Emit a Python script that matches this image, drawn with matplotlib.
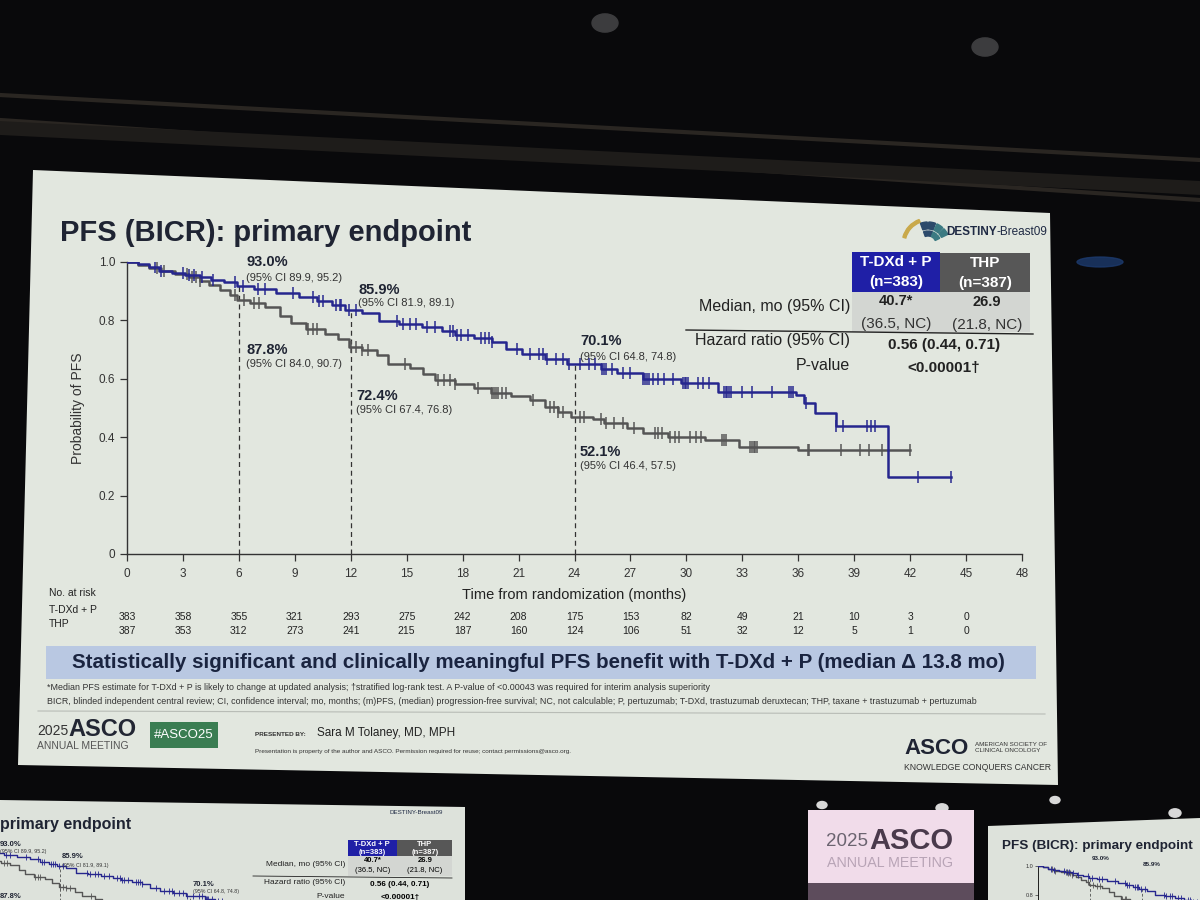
import numpy as np
import matplotlib
matplotlib.use("Agg")
import matplotlib.pyplot as plt
from matplotlib.patches import Polygon, Rectangle, Wedge, Ellipse
from matplotlib.transforms import blended_transform_factory

plt.rcParams["font.family"] = ["Liberation Sans", "DejaVu Sans"]

# --- KM curves (step points) ---
tdxd_t = [0, 0.6, 1.2, 1.7, 2.4, 3.1, 3.9, 4.5, 5.2, 5.9, 6.8, 8.0, 9.2, 10.2, 11.0, 11.7,
          12.6, 13.5, 14.6, 15.8, 16.9, 17.6, 18.6, 19.6, 20.3, 21.2, 22.4, 23.6, 25.4, 26.3,
          27.7, 29.7, 31.7, 35.9, 36.3, 36.9, 38.0, 40.8, 44.2]
tdxd_s = [1.0, 0.992, 0.982, 0.970, 0.963, 0.956, 0.948, 0.940, 0.930, 0.918, 0.908, 0.895,
          0.880, 0.866, 0.852, 0.836, 0.826, 0.798, 0.787, 0.777, 0.763, 0.751, 0.741, 0.727,
          0.702, 0.685, 0.668, 0.652, 0.632, 0.620, 0.598, 0.584, 0.556, 0.544, 0.516, 0.482,
          0.437, 0.262, 0.262]

thp_t = [0, 0.6, 1.2, 1.8, 2.6, 3.3, 3.9, 4.4, 5.0, 5.5, 5.9, 6.6, 7.4, 8.2, 8.8, 9.6, 10.6,
         11.3, 11.9, 12.6, 13.4, 14.0, 15.2, 15.9, 16.5, 17.6, 18.6, 19.5, 20.6, 21.6, 22.4,
         23.1, 23.8, 25.0, 25.6, 26.8, 27.7, 29.0, 31.0, 32.8, 36.0, 42.0]
thp_s = [1.0, 0.990, 0.978, 0.968, 0.958, 0.948, 0.935, 0.922, 0.905, 0.888, 0.870, 0.858,
         0.845, 0.815, 0.790, 0.770, 0.755, 0.735, 0.710, 0.700, 0.680, 0.652, 0.636, 0.615,
         0.595, 0.583, 0.570, 0.552, 0.540, 0.526, 0.505, 0.487, 0.470, 0.462, 0.448, 0.430,
         0.414, 0.400, 0.390, 0.368, 0.356, 0.356]

# censoring ticks (months)
tdxd_cens = [1.5, 1.8, 3.0, 3.3, 3.6, 4.0, 4.6, 5.8, 6.2, 7.0, 7.4, 8.9, 10.0, 10.3, 10.5,
             11.2, 11.4, 11.5, 11.9, 12.3, 14.5, 14.8, 15.2, 15.5, 16.1, 16.5, 17.3, 17.5,
             17.7, 17.9, 18.3, 19.0, 19.2, 19.4, 19.6, 20.9, 21.6, 22.1, 22.3, 22.5, 23.0,
             23.4, 23.7, 24.3, 24.8, 25.1, 25.5, 25.6, 25.7, 26.0, 26.6, 27.0, 27.7, 27.8,
             27.9, 28.0, 28.2, 28.5, 28.8, 29.3, 29.8, 29.9, 30.0, 30.1, 30.6, 30.9, 31.2,
             32.0, 32.1, 32.2, 32.3, 32.4, 33.0, 33.5, 34.6, 35.5, 35.6, 35.7, 36.4, 38.0,
             38.4, 39.7, 39.9, 40.1, 42.4, 44.2]
thp_cens = [1.6, 2.0, 3.2, 3.5, 3.7, 3.9, 5.8, 6.3, 6.8, 7.1, 9.7, 10.0, 10.2, 12.0, 12.3,
            12.6, 12.9, 14.9, 16.7, 17.0, 17.3, 17.6, 18.8, 19.6, 19.7, 19.8, 19.9, 20.1, 20.3,
            21.8, 22.7, 22.9, 23.1, 23.4, 24.3, 24.5, 25.4, 25.7, 26.1, 26.6, 27.2, 28.3,
            28.5, 28.7, 29.1, 29.4, 29.6, 30.2, 30.5, 30.8, 31.9, 32.0, 32.1, 33.4, 33.5,
            33.6, 33.7, 33.8, 36.5, 36.6, 38.3, 39.3, 39.8, 40.5, 42.0]

# landmark annotations
landmarks = [6, 12, 24]
tdxd_pct = ["93.0%", "85.9%", "70.1%"]
tdxd_ci = ["(95% CI 89.9, 95.2)", "(95% CI 81.9, 89.1)", "(95% CI 64.8, 74.8)"]
thp_pct = ["87.8%", "72.4%", "52.1%"]
thp_ci = ["(95% CI 84.0, 90.7)", "(95% CI 67.4, 76.8)", "(95% CI 46.4, 57.5)"]

# number at risk
risk_times = [0, 3, 6, 9, 12, 15, 18, 21, 24, 27, 30, 33, 36, 39, 42, 45]
tdxd_risk = [383, 358, 355, 321, 293, 275, 242, 208, 175, 153, 82, 49, 21, 10, 3, 0]
thp_risk = [387, 353, 312, 273, 241, 215, 187, 160, 124, 106, 51, 32, 12, 5, 1, 0]

BLUE = "#26268e"
GRAY = "#555555"
NAVY = "#1f2433"
SLIDE = "#e2e7df"


def surv_at(times, surv, t):
    idx = np.searchsorted(times, t, side="right") - 1
    return np.asarray(surv)[idx]


def km_axes(fig, x0, y0, x1, y1, lw=1.8, ms=8, z=2):
    # axes placed by pixel box (top-left origin)
    a = fig.add_axes([x0 / 1200, 1 - y1 / 900, (x1 - x0) / 1200, (y1 - y0) / 900], zorder=z)
    a.patch.set_alpha(0)
    a.step(thp_t, thp_s, where="post", color=GRAY, lw=lw, zorder=3)
    a.step(tdxd_t, tdxd_s, where="post", color=BLUE, lw=lw, zorder=4)
    a.plot(thp_cens, surv_at(thp_t, thp_s, thp_cens), ls="none", marker="|", ms=ms,
           mew=lw * 0.6, color=GRAY, zorder=3)
    a.plot(tdxd_cens, surv_at(tdxd_t, tdxd_s, tdxd_cens), ls="none", marker="|", ms=ms,
           mew=lw * 0.6, color=BLUE, zorder=4)
    for t in landmarks:
        a.plot([t, t], [0, surv_at(tdxd_t, tdxd_s, t)], color="#333333", lw=lw * 0.5,
               ls=(0, (4, 3)), zorder=2)
    a.set_xlim(0, 48)
    a.set_ylim(0, 1.0)
    return a


fig = plt.figure(figsize=(12, 9), dpi=100, facecolor="#09090b")

# background layer in pixel coordinates
bg = fig.add_axes([0, 0, 1, 1], zorder=0)
bg.set_xlim(0, 1200)
bg.set_ylim(900, 0)
bg.axis("off")
bg.add_patch(Ellipse((1100, 262), 46, 10, color="#1c3a6e", alpha=0.8))
for y0, y1 in [(95, 160), (120, 200)]:
    bg.plot([0, 1200], [y0, y1], color="#2a2622", lw=3)
bg.plot([0, 1200], [128, 188], color="#1e1c1a", lw=10)
for x, y, w in [(605, 23, 26), (985, 47, 26)]:
    bg.add_patch(Ellipse((x, y), w, w * 0.7, color="#3c3c3e"))
for x, y, w in [(822, 805, 10), (942, 808, 12), (1055, 800, 10), (1175, 813, 12)]:
    bg.add_patch(Ellipse((x, y), w, w * 0.7, color="#d8d8d8"))
bg.add_patch(Polygon([(33, 170), (1050, 213), (1058, 785), (18, 765)], closed=True,
                     facecolor=SLIDE, edgecolor="none"))
# partial screens at bottom
bg.add_patch(Polygon([(0, 800), (465, 807), (465, 900), (0, 900)], facecolor="#dde2db"))
bg.add_patch(Rectangle((808, 810), 166, 73, facecolor="#f1dcea"))
bg.add_patch(Rectangle((808, 883), 166, 17, facecolor="#5d4c5c"))
bg.add_patch(Polygon([(988, 826), (1200, 818), (1200, 900), (988, 900)], facecolor="#dde2db"))

# --- main KM axes ---
ax = km_axes(fig, 127, 262, 1022, 554)

# landmark labels: (x, y_pct, y_ci) in data units
tdxd_pos = [(6.4, 1.0, 0.945), (12.4, 0.905, 0.858), (24.3, 0.729, 0.676)]
thp_pos = [(6.4, 0.70, 0.652), (12.3, 0.541, 0.492), (24.3, 0.350, 0.300)]
for (x, yp, yc), p, c in zip(tdxd_pos + thp_pos, tdxd_pct + thp_pct, tdxd_ci + thp_ci):
    ax.text(x, yp, p, fontsize=10.5, fontweight="bold", color=NAVY, va="center")
    ax.text(x, yc, c, fontsize=8, color="#333333", va="center")

ax.set_xticks(np.arange(0, 49, 3))
ax.set_yticks([0, 0.2, 0.4, 0.6, 0.8, 1.0])
ax.set_yticklabels(["0", "0.2", "0.4", "0.6", "0.8", "1.0"])
for s in ["top", "right"]:
    ax.spines[s].set_visible(False)
for s in ["left", "bottom"]:
    ax.spines[s].set_color("#333333")
    ax.spines[s].set_linewidth(1.0)
ax.tick_params(colors="#333333", labelsize=8.5, length=5, width=0.9)
ax.tick_params(axis="x", pad=5)
ax.set_ylabel("Probability of PFS", fontsize=10, color="#333333", labelpad=10)
ax.set_xlabel("Time from randomization (months)", fontsize=10.5, color="#222222", labelpad=6)

# number at risk rows
tr = blended_transform_factory(ax.transData, fig.transFigure)
for t, a, b in zip(risk_times, tdxd_risk, thp_risk):
    ax.text(t, 1 - 617 / 900, str(a), transform=tr, ha="center", va="center", fontsize=7.5,
            color="#222222")
    ax.text(t, 1 - 631 / 900, str(b), transform=tr, ha="center", va="center", fontsize=7.5,
            color="#222222")

# mini curves on the partial screens
for x0, y0, x1, y1, labels in [(-70, 840, 450, 1001, False), (1038, 866, 1454, 1009, True)]:
    m = km_axes(fig, x0, y0, x1, y1, lw=1.0, ms=4, z=1)
    m.set_xticks([])
    m.set_yticks([0.8, 1.0] if labels else [])
    m.set_yticklabels(["0.8", "1.0"] if labels else [])
    m.tick_params(labelsize=4, length=2, width=0.5, pad=1, colors="#333333")
    for s in ["top", "right"]:
        m.spines[s].set_visible(False)
    for s in ["left", "bottom"]:
        m.spines[s].set_linewidth(0.6)

# --- overlay texts in pixel coordinates ---
ov = fig.add_axes([0, 0, 1, 1], zorder=5)
ov.set_xlim(0, 1200)
ov.set_ylim(900, 0)
ov.axis("off")

ov.text(60, 233, "PFS (BICR): primary endpoint", fontsize=21, fontweight="bold", color=NAVY,
        va="center")

# DESTINY logo
ov.add_patch(Wedge((928, 244), 26, 195, 250, width=3, color="#c9a94a"))
for a0, col in [(250, "#2c4a6b"), (272, "#2c4a6b"), (294, "#3b7a82"), (316, "#3b7a82")]:
    ov.add_patch(Wedge((928, 244), 22, a0, a0 + 18, width=7, color=col))
    ov.add_patch(Wedge((928, 244), 13, a0, a0 + 18, width=5, color=col))
logo = ov.text(946, 232, "DESTINY", fontsize=8.5, fontweight="bold", color="#1f2a44",
               va="center")
ov.annotate("-Breast09", xy=(1, 0.5), xycoords=logo, fontsize=8.5, color="#1f2a44",
            va="center")

# results table
ov.add_patch(Rectangle((852, 252), 88, 40, facecolor="#1f1fa6", edgecolor="none"))
ov.add_patch(Rectangle((940, 253), 90, 40, facecolor="#575757", edgecolor="none"))
ov.add_patch(Rectangle((852, 292), 178, 40, facecolor="#d3d6d2", edgecolor="none"))
for x, y, s in [(896, 262, "T-DXd + P"), (896, 282, "(n=383)"), (985, 263, "THP"),
                (985, 283, "(n=387)")]:
    ov.text(x, y, s, fontsize=11, fontweight="bold", color="white", ha="center", va="center")
ov.text(850, 306, "Median, mo (95% CI)", fontsize=11.5, color="#222222", ha="right",
        va="center")
ov.text(896, 301, "40.7*", fontsize=10.5, fontweight="bold", color="#222222", ha="center",
        va="center")
ov.text(896, 324, "(36.5, NC)", fontsize=11, color="#333333", ha="center", va="center")
ov.text(987, 302, "26.9", fontsize=10.5, fontweight="bold", color="#222222", ha="center",
        va="center")
ov.text(987, 325, "(21.8, NC)", fontsize=11, color="#333333", ha="center", va="center")
ov.plot([686, 1033], [330, 334], color="#222222", lw=1)
ov.text(850, 341, "Hazard ratio (95% CI)", fontsize=11.5, color="#222222", ha="right",
        va="center")
ov.text(944, 345, "0.56 (0.44, 0.71)", fontsize=11, fontweight="bold", color="#222222",
        ha="center", va="center")
ov.text(850, 365, "P-value", fontsize=11.5, color="#222222", ha="right", va="center")
ov.text(944, 368, "<0.00001\u2020", fontsize=11, fontweight="bold", color="#222222",
        ha="center", va="center")

# number at risk labels
ov.text(49, 593, "No. at risk", fontsize=7.5, color="#222222", va="center")
ov.text(49, 610, "T-DXd + P", fontsize=7.5, color="#222222", va="center")
ov.text(49, 624, "THP", fontsize=7.5, color="#222222", va="center")

# key message banner
ov.add_patch(Rectangle((46, 646), 990, 33, facecolor="#b9c8e2", edgecolor="none"))
ov.text(538, 663, "Statistically significant and clinically meaningful PFS benefit with "
        "T-DXd + P (median \u0394 13.8 mo)", fontsize=14.8, fontweight="bold", color="#1a2440",
        ha="center", va="center")

# footnotes
ov.text(47, 688, "*Median PFS estimate for T-DXd + P is likely to change at updated analysis; "
        "\u2020stratified log-rank test. A P-value of <0.00043 was required for interim analysis "
        "superiority", fontsize=6.4, color="#333333", va="center")
ov.text(47, 701, "BICR, blinded independent central review; CI, confidence interval; mo, months; "
        "(m)PFS, (median) progression-free survival; NC, not calculable; P, pertuzumab; T-DXd, "
        "trastuzumab deruxtecan; THP, taxane + trastuzumab + pertuzumab", fontsize=6.4,
        color="#333333", va="center")
ov.plot([38, 1045], [711, 714], color="#b8bcb6", lw=0.8)

# footer
ov.text(37, 731, "2025", fontsize=10, color="#333333", va="center")
ov.text(68, 729, "ASCO", fontsize=17, fontweight="bold", color="#222633", va="center")
ov.text(37, 746, "ANNUAL MEETING", fontsize=7.5, color="#555555", va="center")
ov.add_patch(Rectangle((150, 722), 68, 26, facecolor="#3a7d52", edgecolor="none"))
ov.text(184, 735, "#ASCO25", fontsize=9.5, color="white", ha="center", va="center")
ov.text(255, 734, "PRESENTED BY:", fontsize=4.6, fontweight="bold", color="#333333",
        va="center")
ov.text(317, 733, "Sara M Tolaney, MD, MPH", fontsize=8.5, color="#222222", va="center")
ov.text(255, 752, "Presentation is property of the author and ASCO. Permission required for "
        "reuse; contact permissions@asco.org.", fontsize=4.6, color="#333333", va="center")
ov.text(904, 748, "ASCO", fontsize=16, fontweight="bold", color="#1f2433", va="center")
ov.text(975, 744, "AMERICAN SOCIETY OF", fontsize=4.5, color="#333333", va="center")
ov.text(975, 751, "CLINICAL ONCOLOGY", fontsize=4.5, color="#333333", va="center")
ov.text(904, 768, "KNOWLEDGE CONQUERS CANCER", fontsize=6.2, color="#333333", va="center")

# left partial screen
ov.text(0, 825, "primary endpoint", fontsize=11.5, fontweight="bold", color=NAVY,
        va="center")
ov.text(390, 813, "DESTINY-Breast09", fontsize=4.5, color="#1f2a44", va="center")
ov.add_patch(Rectangle((348, 840), 49, 16, facecolor="#1f1fa6"))
ov.add_patch(Rectangle((397, 840), 55, 16, facecolor="#575757"))
ov.add_patch(Rectangle((348, 856), 104, 20, facecolor="#d3d6d2"))
for x, y, s in [(372, 844, "T-DXd + P"), (372, 852, "(n=383)"), (425, 844, "THP"),
                (425, 852, "(n=387)")]:
    ov.text(x, y, s, fontsize=5.5, fontweight="bold", color="white", ha="center",
            va="center")
ov.text(345, 864, "Median, mo (95% CI)", fontsize=6, color="#222222", ha="right",
        va="center")
ov.text(373, 860, "40.7*", fontsize=5.5, fontweight="bold", ha="center", va="center")
ov.text(425, 860, "26.9", fontsize=5.5, fontweight="bold", ha="center", va="center")
ov.text(373, 871, "(36.5, NC)", fontsize=5.5, ha="center", va="center")
ov.text(425, 871, "(21.8, NC)", fontsize=5.5, ha="center", va="center")
ov.plot([253, 452], [876, 878], color="#222222", lw=0.6)
ov.text(345, 883, "Hazard ratio (95% CI)", fontsize=6, color="#222222", ha="right",
        va="center")
ov.text(400, 884, "0.56 (0.44, 0.71)", fontsize=5.8, fontweight="bold", ha="center",
        va="center")
ov.text(345, 897, "P-value", fontsize=6, color="#222222", ha="right", va="center")
ov.text(400, 898, "<0.00001\u2020", fontsize=5.8, fontweight="bold", ha="center",
        va="center")
for x, y, s in [(0, 845, "93.0%"), (62, 857, "85.9%"), (193, 884, "70.1%"),
                (0, 897, "87.8%")]:
    ov.text(x, y, s, fontsize=5.5, fontweight="bold", color=NAVY, va="center")
for x, y, s in [(0, 852, "(95% CI 89.9, 95.2)"), (62, 865, "(95% CI 81.9, 89.1)"),
                (193, 892, "(95% CI 64.8, 74.8)")]:
    ov.text(x, y, s, fontsize=3.8, color="#333333", va="center")

# ASCO banner screen
ov.text(868, 842, "2025", fontsize=13.5, color="#6b6470", ha="right", va="center")
ov.text(869, 841, "ASCO", fontsize=21, fontweight="bold", color="#4a3a4c", va="center")
ov.text(890, 863, "ANNUAL MEETING", fontsize=10.3, color="#b8a4b6", ha="center", va="center")

# right partial screen
ov.text(1002, 846, "PFS (BICR): primary endpoint", fontsize=9.7, fontweight="bold",
        color=NAVY, va="center")
ov.text(1092, 858, "93.0%", fontsize=4.5, fontweight="bold", color=NAVY, va="center")
ov.text(1143, 865, "85.9%", fontsize=4.5, fontweight="bold", color=NAVY, va="center")

fig.savefig("out.png", dpi=100, facecolor=fig.get_facecolor())
